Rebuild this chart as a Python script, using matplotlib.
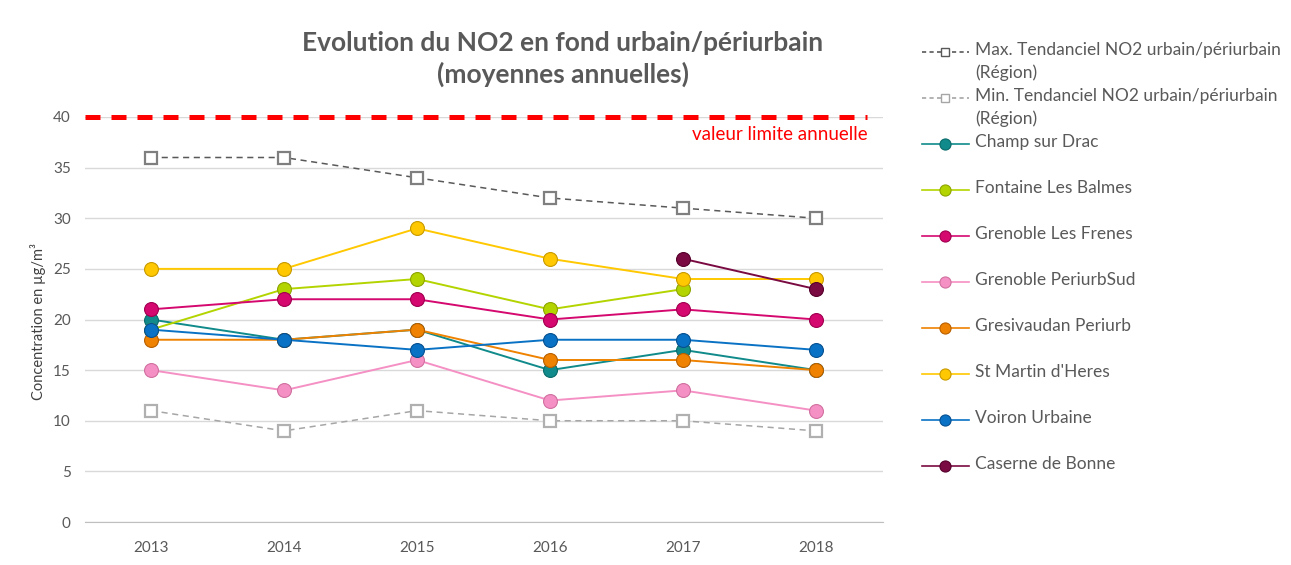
import numpy as np
import matplotlib
matplotlib.use("Agg")
import matplotlib.pyplot as plt
from matplotlib.lines import Line2D

plt.rcParams['font.family'] = ['Lato', 'DejaVu Sans']

years = ['2013', '2014', '2015', '2016', '2017', '2018']
nan = np.nan

# tendances regionales
max_tend = [36, 36, 34, 32, 31, 30]
min_tend = [11, 9, 11, 10, 10, 9]

# stations
champ = [20, 18, 19, 15, 17, 15]
fontaine = [19, 23, 24, 21, 23, nan]
frenes = [21, 22, 22, 20, 21, 20]
periurbsud = [15, 13, 16, 12, 13, 11]
gresivaudan = [18, 18, 19, 16, 16, 15]
st_martin = [25, 25, 29, 26, 24, 24]
voiron = [19, 18, 17, 18, 18, 17]
caserne = [nan, nan, nan, nan, 26, 23]

valeur_limite = 40

stations = [
    ("Champ sur Drac", champ, "#108a8a", "#0b6b6b"),
    ("Fontaine Les Balmes", fontaine, "#b4d400", "#8ea400"),
    ("Grenoble Les Frenes", frenes, "#d4086e", "#a00050"),
    ("Grenoble PeriurbSud", periurbsud, "#f590c4", "#d070a0"),
    ("Gresivaudan Periurb", gresivaudan, "#ef8200", "#b86000"),
    ("St Martin d'Heres", st_martin, "#ffc800", "#c89a00"),
    ("Voiron Urbaine", voiron, "#0a72c4", "#065090"),
    ("Caserne de Bonne", caserne, "#7a0a42", "#55002c"),
]

W, H = 1291, 565
fig = plt.figure(figsize=(W / 100, H / 100), dpi=100)
ax = fig.add_axes([84.5 / W, 1 - 522 / H, (882.5 - 84.5) / W, (522 - 117) / H])

x = np.arange(len(years))

ax.plot(x, max_tend, color="#595959", lw=1.1, ls=(0, (4, 3)), marker="s", ms=9,
        mfc="white", mec="#7f7f7f", mew=1.6, clip_on=False, zorder=3)
ax.plot(x, min_tend, color="#a6a6a6", lw=1.1, ls=(0, (4, 3)), marker="s", ms=9,
        mfc="white", mec="#b0b0b0", mew=1.6, clip_on=False, zorder=3)

for name, vals, col, edge in stations:
    ax.plot(x, vals, color=col, lw=1.4, marker="o", ms=10, mfc=col, mec=edge,
            mew=0.8, clip_on=False, zorder=4)

# valeur limite
ax.plot([-0.5, 5.38], [valeur_limite, valeur_limite], color="#ff0000", lw=3.6,
        ls=(0, (3, 2.2)), clip_on=False, zorder=5)
ax.text(5.39, 38.3, "valeur limite annuelle", color="#ff0000", fontsize=13.5,
        ha="right", va="center")

ax.set_xlim(-0.5, 5.5)
ax.set_ylim(0, 40)
ax.set_xticks(x)
ax.set_xticklabels(years, fontsize=11, color="#595959")
ax.set_yticks(np.arange(0, 41, 5))
ax.set_yticklabels([str(v) for v in range(0, 41, 5)], fontsize=11, color="#595959")
ax.tick_params(length=0, pad=14)
ax.tick_params(axis="y", pad=10)
ax.grid(axis="y", color="#d9d9d9", lw=1)
ax.set_axisbelow(True)
for s in ["top", "right", "left"]:
    ax.spines[s].set_visible(False)
ax.spines["bottom"].set_color("#bfbfbf")

fig.text(38 / W, 1 - 322 / H, "Concentration en µg/m³", rotation=90,
         fontsize=10.5, color="#404040", ha="center", va="center")

fig.text(563 / W, 1 - 59 / H, "Evolution du NO2 en fond urbain/périurbain\n(moyennes annuelles)",
         fontsize=19, fontweight="bold", color="#595959", ha="center", va="center",
         linespacing=1.3)

# legende
leg_entries = [
    ("Max. Tendanciel NO2 urbain/périurbain\n(Région)", "#595959", "s", "white", "#595959", (0, (2.5, 2))),
    ("Min. Tendanciel NO2 urbain/périurbain\n(Région)", "#a6a6a6", "s", "white", "#a6a6a6", (0, (2.5, 2))),
] + [(n, c, "o", c, e, "-") for n, v, c, e in stations]

for i, (lab, col, mk, mfc, mec, ls) in enumerate(leg_entries):
    yy = 1 - (52 + 46 * i) / H
    fig.add_artist(Line2D([922 / W, 969 / W], [yy, yy], color=col, lw=1.2, ls=ls,
                          transform=fig.transFigure))
    fig.add_artist(Line2D([945 / W], [yy], marker=mk, ms=(6 if mk == "s" else 8),
                          mfc=mfc, mec=mec, mew=(1 if mk == "s" else 0.8),
                          transform=fig.transFigure))
    fig.text(975 / W, yy + 10 / H, lab, fontsize=12.5, color="#595959",
             ha="left", va="top", linespacing=1.45)

fig.savefig("out.png", dpi=100)
